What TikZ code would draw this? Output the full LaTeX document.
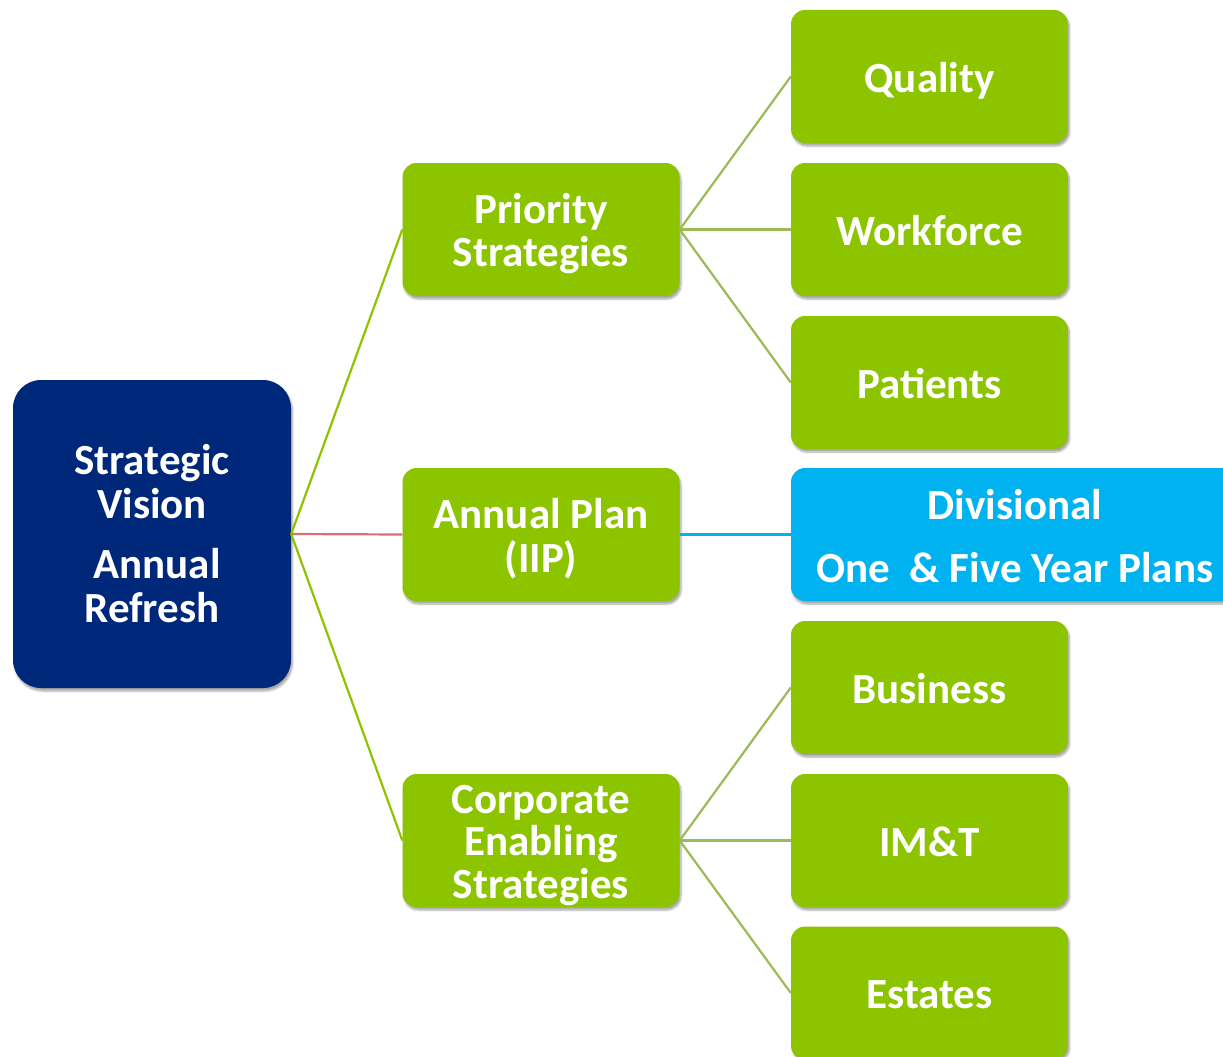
\documentclass[tikz,border=0pt]{standalone}
\usepackage{fontspec}
\setmainfont{Carlito}
\usetikzlibrary{shadows.blur}

\definecolor{navy}{RGB}{0,40,122}
\definecolor{leaf}{RGB}{141,196,0}
\definecolor{sky}{RGB}{0,178,240}
\definecolor{olive}{RGB}{155,187,89}
\definecolor{rose}{RGB}{222,110,110}

% centred block of lines, set a little below the box centre
\newcommand{\boxtext}[2][-7pt]{\raisebox{#1}[\height][\depth]{\begin{tabular}{@{}c@{}}#2\end{tabular}}}

\tikzset{
  box/.style={rectangle, rounded corners=14pt, fill=leaf, text=white,
    minimum width=277pt, minimum height=133pt, inner sep=0pt, align=center,
    font=\bfseries\fontsize{43}{42}\selectfont,
    blur shadow={shadow xshift=1.5pt, shadow yshift=-3pt, shadow blur steps=6, shadow opacity=35}},
  rootbox/.style={box, fill=navy, rounded corners=28pt, minimum width=278pt, minimum height=308pt,
    font=\bfseries\fontsize{43}{44}\selectfont},
  planbox/.style={box, fill=sky, minimum width=448pt},
  trunk/.style={line width=2.2pt, leaf},
  twig/.style={line width=2.2pt, olive},
}

\begin{document}
\begin{tikzpicture}[x=1pt, y=-1pt]
  \useasboundingbox (0,0) rectangle (1223,1057);
  \clip (0,0) rectangle (1223,1057);

  % root
  \node[rootbox] (sv) at (152,534) {\boxtext[-6pt]{Strategic\\Vision\\[16pt]\hspace{10pt}Annual\\Refresh}};

  % middle column
  \node[box] (ps) at (541,229.5) {\boxtext{Priority\\Strategies}};
  \node[box] (ap) at (541,534.5) {\boxtext{Annual Plan\\(IIP)}};
  \node[box] (ce) at (541,840.5) {\boxtext{Corporate\\Enabling\\Strategies}};

  % right column
  \node[box] (q)  at (929.5,76.5)  {\boxtext{Quality}};
  \node[box] (w)  at (929.5,229.5) {\boxtext{Workforce}};
  \node[box] (p)  at (929.5,382.5) {\boxtext{Patients}};
  \node[planbox] (dv) at (1015,534.5) {\boxtext[-8pt]{Divisional\\[20pt]One\ \ \& Five Year Plans}};
  \node[box] (b)  at (929.5,687.5) {\boxtext{Business}};
  \node[box] (it) at (929.5,840.5) {\boxtext{IM\&T}};
  \node[box] (es) at (929.5,993)   {\boxtext{Estates}};

  % connectors
  \draw[trunk] (sv.east) -- (ps.west);
  \draw[line width=2.2pt, rose] (sv.east) -- (ap.west);
  \draw[trunk] (sv.east) -- (ce.west);

  \draw[twig] (ps.east) -- (q.west);
  \draw[twig] (ps.east) -- (w.west);
  \draw[twig] (ps.east) -- (p.west);

  \draw[line width=2.2pt, sky] (ap.east) -- (dv.west);

  \draw[twig] (ce.east) -- (b.west);
  \draw[twig] (ce.east) -- (it.west);
  \draw[twig] (ce.east) -- (es.west);
\end{tikzpicture}
\end{document}
